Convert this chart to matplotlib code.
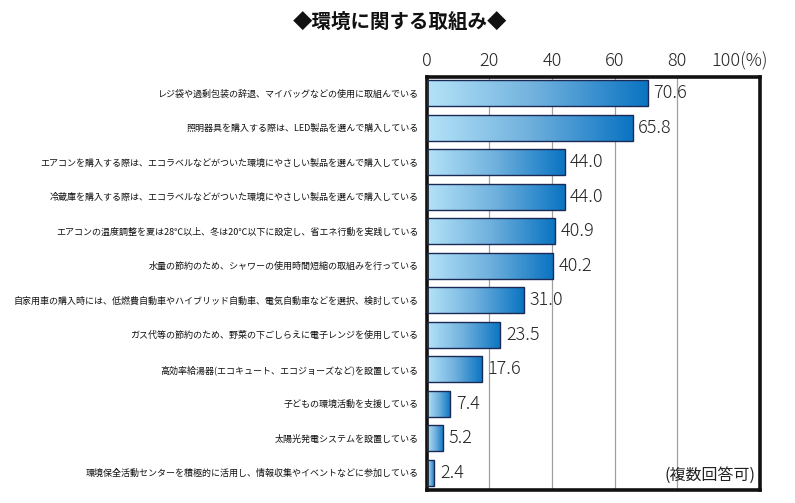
import numpy as np
import matplotlib
matplotlib.use("Agg")
import matplotlib.pyplot as plt
from matplotlib.colors import LinearSegmentedColormap

plt.rcParams["font.family"] = ["Noto Sans CJK JP", "DejaVu Sans"]

title = "◆環境に関する取組み◆"
labels = [
    "レジ袋や過剰包装の辞退、マイバッグなどの使用に取組んでいる",
    "照明器具を購入する際は、LED製品を選んで購入している",
    "エアコンを購入する際は、エコラベルなどがついた環境にやさしい製品を選んで購入している",
    "冷蔵庫を購入する際は、エコラベルなどがついた環境にやさしい製品を選んで購入している",
    "エアコンの温度調整を夏は28℃以上、冬は20℃以下に設定し、省エネ行動を実践している",
    "水量の節約のため、シャワーの使用時間短縮の取組みを行っている",
    "自家用車の購入時には、低燃費自動車やハイブリッド自動車、電気自動車などを選択、検討している",
    "ガス代等の節約のため、野菜の下ごしらえに電子レンジを使用している",
    "高効率給湯器(エコキュート、エコジョーズなど)を設置している",
    "子どもの環境活動を支援している",
    "太陽光発電システムを設置している",
    "環境保全活動センターを積極的に活用し、情報収集やイベントなどに参加している",
]
values = [70.6, 65.8, 44.0, 44.0, 40.9, 40.2, 31.0, 23.5, 17.6, 7.4, 5.2, 2.4]
ticks = [0, 20, 40, 60, 80, 100]
tick_labels = ["0", "20", "40", "60", "80", "100(%)"]
note = "(複数回答可)"

cmap = LinearSegmentedColormap.from_list("bar", ["#b4e3f8", "#6fb0dd", "#0a74c2"])

fig = plt.figure(figsize=(7.95, 5.03), dpi=100)
ax = fig.add_axes([0.537, 0.026, 0.419, 0.821])

bar_h = 0.75
y = np.arange(len(values))
bars = ax.barh(y, values, height=bar_h, color="none", edgecolor="#1a2a55",
               linewidth=1.0, zorder=3)
grad = np.linspace(0, 1, 256).reshape(1, -1)
for b in bars:
    x0, y0 = b.get_x(), b.get_y()
    w, h = b.get_width(), b.get_height()
    ax.imshow(grad, cmap=cmap, aspect="auto", extent=(x0, x0 + w, y0 + h, y0),
              zorder=2, interpolation="bicubic")

for yi, v in zip(y, values):
    ax.text(v + 1.8, yi, f"{v:.1f}", va="center", ha="left", fontsize=13,
            fontweight="light", color="#222222", zorder=4)

ax.set_xlim(0, 106.5)
ax.set_ylim(len(values) - 0.5, -0.47)
ax.set_aspect("auto")

ax.xaxis.tick_top()
ax.set_xticks(ticks)
ax.set_xticklabels(tick_labels, fontsize=13, fontweight="light", color="#222222")
ax.tick_params(axis="x", length=0, pad=5)
for t in [20, 40, 60, 80]:
    ax.axvline(t, color="#a0a0a0", linewidth=0.9, zorder=1)

ax.set_yticks(y)
ax.set_yticklabels(labels, fontsize=6.5, color="#111111")
ax.tick_params(axis="y", length=0, pad=6)

for s in ax.spines.values():
    s.set_linewidth(2.6)
    s.set_color("#111111")

ax.text(0.985, 0.035, note, transform=ax.transAxes, ha="right", va="center",
        fontsize=11.5, color="#222222")

fig.text(0.503, 0.955, title, ha="center", va="center", fontsize=14,
         fontweight="bold", color="#111111")

fig.savefig("out.png", dpi=100)
